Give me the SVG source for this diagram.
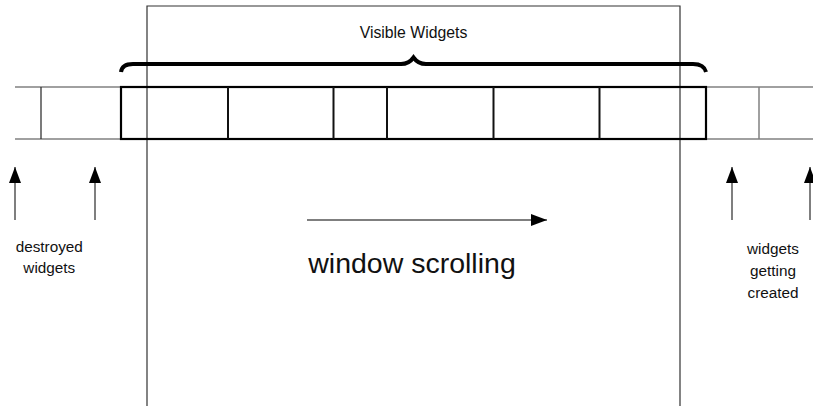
<svg xmlns="http://www.w3.org/2000/svg" width="813" height="406" viewBox="0 0 813 406">
<style>
  text { font-family: "Liberation Sans", Arial, sans-serif; fill: #111; }
  .win { fill: none; stroke: #333; stroke-width: 1.2; }
  .outer { fill: none; stroke: #808080; stroke-width: 1.5; }
  .box { fill: none; stroke: #000; stroke-width: 2.2; }
  .div { stroke: #111; stroke-width: 2; }
  .thin { stroke: #333; stroke-width: 1.3; }
  .brace { fill: none; stroke: #000; stroke-width: 4; stroke-linecap: butt; }
  .arr { stroke: #555; stroke-width: 1.5; fill: none; }
  .lbl { font-size: 15.3px; text-anchor: middle; }
</style>
<defs>
  <marker id="head" viewBox="0 0 16 12" refX="16" refY="6" markerWidth="16" markerHeight="12" markerUnits="userSpaceOnUse" orient="auto">
    <path d="M0,0 L16,6 L0,12 Z" fill="#000"/>
  </marker>
</defs>
<rect width="813" height="406" fill="#fff"/>

<g id="window">
  <path class="win" d="M147,406 V6 H680 V406"/>
  <text x="413.5" y="38" font-size="15.8" text-anchor="middle">Visible Widgets</text>
</g>

<g id="strip">
  <line class="outer" x1="15" y1="87" x2="121" y2="87"/>
  <line class="outer" x1="15" y1="139" x2="121" y2="139"/>
  <line class="thin" x1="41" y1="87" x2="41" y2="139"/>
  <line class="outer" x1="706" y1="87" x2="813" y2="87"/>
  <line class="outer" x1="706" y1="139" x2="813" y2="139"/>
  <line class="outer" x1="759" y1="87" x2="759" y2="139"/>
</g>

<g id="visible-widgets">
  <rect class="box" x="121" y="87" width="585" height="52"/>
  <line class="div" x1="228" y1="87" x2="228" y2="139"/>
  <line class="div" x1="333.5" y1="87" x2="333.5" y2="139"/>
  <line class="div" x1="387" y1="87" x2="387" y2="139"/>
  <line class="div" x1="493.5" y1="87" x2="493.5" y2="139"/>
  <line class="div" x1="599.5" y1="87" x2="599.5" y2="139"/>
</g>

<g id="brace">
  <path class="brace" d="M121,72 Q122,64 133,64 H401 Q409,64 413.5,57.5 Q418,64 426,64 H693 Q704,64 706,72"/>
</g>

<g id="connectors">
  <line class="arr" x1="15" y1="220" x2="15" y2="167" marker-end="url(#head)"/>
  <line class="arr" x1="95" y1="220" x2="95" y2="167" marker-end="url(#head)"/>
  <line class="arr" x1="732" y1="220" x2="732" y2="167" marker-end="url(#head)"/>
  <line class="arr" x1="810" y1="220" x2="810" y2="167" marker-end="url(#head)"/>
  <line class="arr" x1="307" y1="220" x2="547" y2="220" marker-end="url(#head)"/>
</g>

<g id="destroyed-label">
  <text class="lbl" x="49.3" y="251.5">destroyed</text>
  <text class="lbl" x="49.3" y="272.5">widgets</text>
</g>

<g id="created-label">
  <text class="lbl" x="773" y="254">widgets</text>
  <text class="lbl" x="773" y="276">getting</text>
  <text class="lbl" x="773" y="298">created</text>
</g>

<g id="scroll-label">
  <text x="412" y="273" font-size="28.5" text-anchor="middle">window scrolling</text>
</g>
</svg>
